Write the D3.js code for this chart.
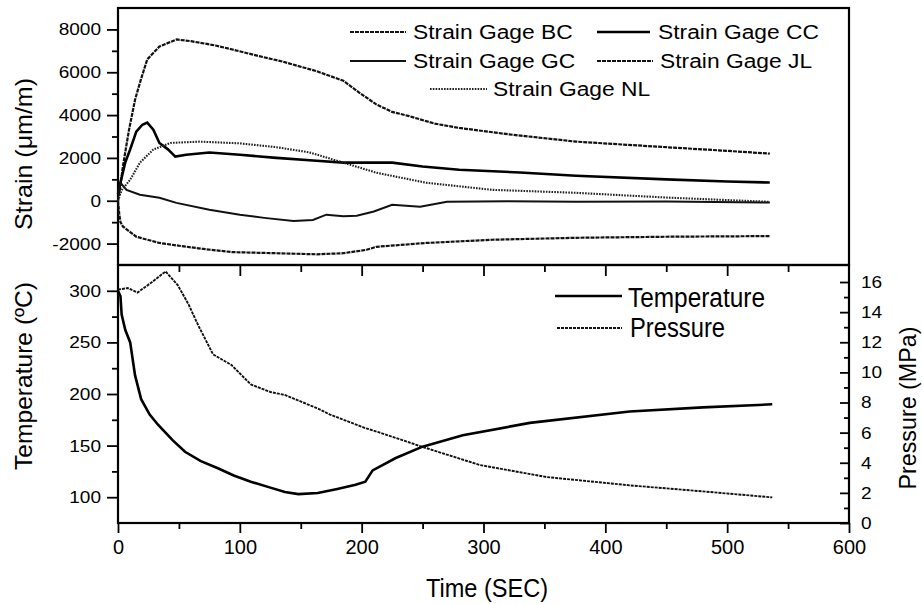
<!DOCTYPE html>
<html>
<head>
<meta charset="utf-8">
<script src="https://cdn.jsdelivr.net/npm/d3@7"></script>
<style>
  body { margin: 0; background: #fff; }
  text { font-family: "Liberation Sans", Arial, sans-serif; fill: #000; }
</style>
</head>
<body>
<div id="chart"></div>
<script>
// strain gages, [time (s), strain (um/m)]
const gageBC = [[0,0],[2,700],[4,1600],[9,3300],[14,4720],[19,5700],[24,6600],[34,7200],[48,7530],[60,7450],[80,7250],[94,7060],[116,6750],[135,6500],[163,6050],[185,5600],[198,5050],[212,4500],[225,4150],[239,3950],[260,3600],[280,3400],[321,3100],[376,2760],[450,2500],[500,2330],[535,2200]];
const gageCC = [[0,300],[2,840],[6,1800],[10,2400],[15,3230],[20,3550],[24,3650],[29,3320],[34,2700],[41,2400],[47,2060],[56,2150],[75,2250],[100,2150],[130,2000],[163,1870],[185,1780],[225,1780],[250,1600],[280,1450],[330,1320],[376,1170],[450,1000],[500,900],[535,850]];
const gageGC = [[0,300],[2,840],[7,510],[18,280],[34,140],[48,-100],[75,-420],[100,-650],[120,-800],[144,-950],[160,-900],[171,-650],[185,-720],[196,-700],[210,-500],[225,-190],[248,-280],[270,-50],[320,-20],[376,-50],[450,-40],[535,-80]];
const gageJL = [[0,0],[1,-600],[2,-1000],[4,-1200],[15,-1680],[34,-1970],[50,-2100],[70,-2250],[94,-2400],[116,-2430],[163,-2500],[185,-2450],[204,-2290],[212,-2150],[253,-1970],[307,-1820],[376,-1730],[450,-1680],[535,-1650]];
const gageNL = [[0,0],[3,500],[10,980],[18,1780],[29,2390],[43,2700],[67,2760],[100,2680],[130,2500],[157,2260],[185,1780],[212,1310],[253,840],[307,510],[376,370],[450,150],[535,-50]];

// temperature (C) and pressure (MPa) vs time (s)
const temperature = [[0,300],[2,295],[3,277],[6,262],[10,250],[14,218],[19,195],[26,180],[33,170],[45,155],[55,144],[68,135],[82,128],[95,121],[109,115],[123,110],[137,105],[148,103],[164,104],[180,108],[195,112],[203,115],[209,126],[228,138],[250,149],[283,160],[338,172],[420,183],[480,187],[537,190]];
const pressure = [[0,15.5],[8,15.6],[16,15.3],[28,16.0],[39,16.7],[49,15.8],[58,14.5],[66,13.1],[78,11.2],[93,10.5],[109,9.2],[125,8.7],[137,8.5],[164,7.6],[174,7.2],[203,6.3],[215,6.0],[250,5.05],[297,3.85],[352,3.05],[420,2.5],[480,2.1],[537,1.7]];

const timeTicks = [0,100,200,300,400,500,600];
const strainTicks = [-2000,0,2000,4000,6000,8000];
const tempTicks = [100,150,200,250,300];
const pressTicks = [0,2,4,6,8,10,12,14,16];

const width = 922, height = 604;
const plotLeft = 118, plotRight = 849, plotTop = 8, plotMid = 265, plotBottom = 523;

const svg = d3.select('#chart').append('svg')
  .attr('width', width)
  .attr('height', height);

const x = d3.scaleLinear().domain([0, 600]).range([plotLeft, plotRight]);
const yS = d3.scaleLinear().domain([-3000, 9000]).range([plotMid, plotTop]);
const yT = d3.scaleLinear().domain([75, 325]).range([plotBottom, plotMid]);
const yP = d3.scaleLinear().domain([0, 17.13]).range([plotBottom, plotMid]);

const plain = d => String(d);

// stretch text a bit wider, the scan is wider than Arial
function wide(sel, k) {
  sel.each(function () {
    const w = this.getComputedTextLength();
    d3.select(this).attr('textLength', w * k).attr('lengthAdjust', 'spacingAndGlyphs');
  });
}

function styleAxis(g) {
  g.select('.domain').remove();
  g.selectAll('line').attr('stroke', '#000').attr('stroke-width', 1.8);
}

// minor ticks
const minorStrain = d3.range(-1000, 8000, 2000);
const minorTemp = [125, 175, 225, 275];
const minorPress = d3.range(1, 17, 2);
const minorTime = d3.range(50, 600, 100);

// left strain axis
svg.append('g').attr('transform', `translate(${plotLeft},0)`)
  .call(d3.axisLeft(yS).tickValues(strainTicks).tickFormat(plain).tickSize(11).tickPadding(6).tickSizeOuter(0))
  .call(styleAxis)
  .selectAll('text').attr('font-size', 17).call(wide, 1.12);
svg.append('g').attr('transform', `translate(${plotLeft},0)`)
  .call(d3.axisLeft(yS).tickValues(minorStrain).tickSize(6).tickFormat(''))
  .call(styleAxis);

// left temperature axis
svg.append('g').attr('transform', `translate(${plotLeft},0)`)
  .call(d3.axisLeft(yT).tickValues(tempTicks).tickFormat(plain).tickSize(11).tickPadding(6).tickSizeOuter(0))
  .call(styleAxis)
  .selectAll('text').attr('font-size', 17).call(wide, 1.12);
svg.append('g').attr('transform', `translate(${plotLeft},0)`)
  .call(d3.axisLeft(yT).tickValues(minorTemp).tickSize(6).tickFormat(''))
  .call(styleAxis);

// right pressure axis, ticks pointing in
svg.append('g').attr('transform', `translate(${plotRight},0)`)
  .call(d3.axisRight(yP).tickValues(pressTicks).tickFormat(plain).tickSize(-9).tickPadding(12).tickSizeOuter(0))
  .call(styleAxis)
  .selectAll('text').attr('font-size', 17).call(wide, 1.12);
svg.append('g').attr('transform', `translate(${plotRight},0)`)
  .call(d3.axisRight(yP).tickValues(minorPress).tickSize(-5).tickFormat(''))
  .call(styleAxis);

// bottom time axis
svg.append('g').attr('transform', `translate(0,${plotBottom})`)
  .call(d3.axisBottom(x).tickValues(timeTicks).tickFormat(plain).tickSize(10).tickPadding(7).tickSizeOuter(0))
  .call(styleAxis)
  .selectAll('text').attr('font-size', 20);
svg.append('g').attr('transform', `translate(0,${plotBottom})`)
  .call(d3.axisBottom(x).tickValues(minorTime).tickSize(6).tickFormat(''))
  .call(styleAxis);

// ticks on the divider between panels
svg.append('g').attr('transform', `translate(0,${plotMid})`)
  .call(d3.axisTop(x).tickValues(timeTicks.slice(1, -1)).tickSize(-11).tickFormat(''))
  .call(styleAxis);
svg.append('g').attr('transform', `translate(0,${plotMid})`)
  .call(d3.axisTop(x).tickValues(minorTime).tickSize(-7).tickFormat(''))
  .call(styleAxis);

// frames
svg.append('rect')
  .attr('x', plotLeft).attr('y', plotTop)
  .attr('width', plotRight - plotLeft).attr('height', plotMid - plotTop)
  .attr('fill', 'none').attr('stroke', '#000').attr('stroke-width', 2.2);
svg.append('rect')
  .attr('x', plotLeft).attr('y', plotMid)
  .attr('width', plotRight - plotLeft).attr('height', plotBottom - plotMid)
  .attr('fill', 'none').attr('stroke', '#000').attr('stroke-width', 2.2);

// series styles
const strainSeries = [
  { name: 'Strain Gage BC', data: gageBC, color: '#111', w: 2.2, dash: '4,1' },
  { name: 'Strain Gage CC', data: gageCC, color: '#000', w: 2.6, dash: null },
  { name: 'Strain Gage GC', data: gageGC, color: '#111', w: 2, dash: null },
  { name: 'Strain Gage JL', data: gageJL, color: '#111', w: 2.2, dash: '4,1' },
  { name: 'Strain Gage NL', data: gageNL, color: '#222', w: 2.1, dash: '1.6,1.2' }
];

const lineS = d3.line().x(d => x(d[0])).y(d => yS(d[1]));
const lineT = d3.line().x(d => x(d[0])).y(d => yT(d[1]));
const lineP = d3.line().x(d => x(d[0])).y(d => yP(d[1]));

svg.append('g')
  .selectAll('path')
  .data(strainSeries)
  .enter().append('path')
  .attr('d', d => lineS(d.data))
  .attr('fill', 'none')
  .attr('stroke', d => d.color)
  .attr('stroke-width', d => d.w)
  .attr('stroke-dasharray', d => d.dash);

svg.append('path')
  .attr('d', lineT(temperature))
  .attr('fill', 'none').attr('stroke', '#000').attr('stroke-width', 2.6);
svg.append('path')
  .attr('d', lineP(pressure))
  .attr('fill', 'none').attr('stroke', '#111').attr('stroke-width', 1.9)
  .attr('stroke-dasharray', '3,1');

// top legend
const legendPos = [
  { x1: 350, x2: 406, tx: 413, y: 32 },
  { x1: 597, x2: 650, tx: 658, y: 32 },
  { x1: 350, x2: 406, tx: 413, y: 61 },
  { x1: 597, x2: 653, tx: 660, y: 61 },
  { x1: 430, x2: 487, tx: 493, y: 89 }
];
strainSeries.forEach((s, i) => {
  const p = legendPos[i];
  svg.append('line')
    .attr('x1', p.x1).attr('x2', p.x2).attr('y1', p.y).attr('y2', p.y)
    .attr('stroke', s.color).attr('stroke-width', s.w)
    .attr('stroke-dasharray', s.dash);
  svg.append('text')
    .attr('x', p.tx).attr('y', p.y + 7)
    .attr('font-size', 20)
    .text(s.name)
    .call(wide, 1.14);
});

// bottom legend
svg.append('line')
  .attr('x1', 555).attr('x2', 622).attr('y1', 296).attr('y2', 296)
  .attr('stroke', '#000').attr('stroke-width', 2.6);
svg.append('text')
  .attr('x', 628).attr('y', 307)
  .attr('font-size', 27)
  .attr('textLength', 137).attr('lengthAdjust', 'spacingAndGlyphs')
  .text('Temperature');
svg.append('line')
  .attr('x1', 557).attr('x2', 622).attr('y1', 328).attr('y2', 328)
  .attr('stroke', '#111').attr('stroke-width', 1.9)
  .attr('stroke-dasharray', '3,1');
svg.append('text')
  .attr('x', 630).attr('y', 337)
  .attr('font-size', 27)
  .attr('textLength', 95).attr('lengthAdjust', 'spacingAndGlyphs')
  .text('Pressure');

// axis titles
svg.append('text')
  .attr('x', 487).attr('y', 597)
  .attr('text-anchor', 'middle')
  .attr('font-size', 26)
  .attr('textLength', 122).attr('lengthAdjust', 'spacingAndGlyphs')
  .text('Time (SEC)');

svg.append('text')
  .attr('transform', 'translate(32,154) rotate(-90)')
  .attr('text-anchor', 'middle')
  .attr('font-size', 24)
  .attr('textLength', 152).attr('lengthAdjust', 'spacingAndGlyphs')
  .text('Strain (\u03bcm/m)');

svg.append('text')
  .attr('transform', 'translate(32,376) rotate(-90)')
  .attr('text-anchor', 'middle')
  .attr('font-size', 24)
  .attr('textLength', 188).attr('lengthAdjust', 'spacingAndGlyphs')
  .text('Temperature (\u00baC)');

svg.append('text')
  .attr('transform', 'translate(916,408) rotate(-90)')
  .attr('text-anchor', 'middle')
  .attr('font-size', 24)
  .attr('textLength', 163).attr('lengthAdjust', 'spacingAndGlyphs')
  .text('Pressure (MPa)');
</script>
</body>
</html>
